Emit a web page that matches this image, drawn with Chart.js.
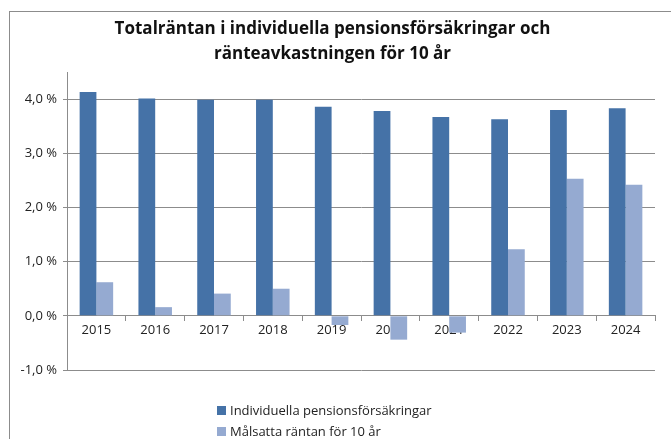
<!DOCTYPE html>
<html>
<head>
<meta charset="utf-8">
<script src="https://cdn.jsdelivr.net/npm/chart.js@4/dist/chart.umd.min.js"></script>
<style>
  body { margin: 0; background: #fff; }
  #wrap { position: relative; width: 671px; height: 439px; }
  #frame { position: absolute; left: 9px; top: 11px; right: 0; bottom: 0;
           border-left: 1px solid #8c8c8c; border-top: 1px solid #8c8c8c; }
  #legend { position: absolute; left: 217px; top: 400px; font-family: 'Open Sans', sans-serif;
            font-size: 13px; color: #222; line-height: 21px; }
  #legend span.box { display: inline-block; width: 9px; height: 9px; margin-right: 4px; }
</style>
</head>
<body>
<div id="wrap">
  <div id="frame"></div>
  <canvas id="rateChart" width="671" height="439"></canvas>
  <div id="legend"></div>
</div>
<script>
// data
const years = ['2015', '2016', '2017', '2018', '2019', '2020', '2021', '2022', '2023', '2024'];
const totalRate = [4.13, 4.01, 3.99, 3.99, 3.86, 3.78, 3.67, 3.63, 3.80, 3.83];
const targetRate = [0.62, 0.16, 0.41, 0.50, -0.17, -0.44, -0.31, 1.23, 2.53, 2.42];
const yTicks = [-1, 0, 1, 2, 3, 4];

const seriesNames = ['Individuella pensionsförsäkringar', 'Målsatta räntan för 10 år'];
const colors = ['#4572a7', '#95aad1'];

const ctx = document.getElementById('rateChart').getContext('2d');

const myChart = new Chart(ctx, {
  type: 'bar',
  data: {
    labels: years,
    datasets: [
      { label: seriesNames[0], data: totalRate, backgroundColor: colors[0] },
      { label: seriesNames[1], data: targetRate, backgroundColor: colors[1] }
    ]
  },
  options: {
    responsive: false,
    animation: false,
    layout: { padding: { left: 10, right: 16, top: 0, bottom: 69 } },
    datasets: { bar: { categoryPercentage: 0.57, barPercentage: 1 } },
    scales: {
      x: {
        position: { y: 0 },
        grid: { offset: true, drawOnChartArea: false, color: '#8c8c8c', tickLength: 5 },
        border: { color: '#8c8c8c' },
        ticks: { color: '#222', font: { family: 'Open Sans', size: 13 }, padding: 2 }
      },
      y: {
        min: -1,
        max: 4.5,
        afterBuildTicks: (axis) => { axis.ticks = yTicks.map(v => ({ value: v })); },
        afterFit: (axis) => { axis.width = 57; },
        grid: { color: '#8c8c8c', drawTicks: true, tickLength: 4 },
        border: { color: '#8c8c8c' },
        ticks: {
          color: '#222',
          font: { family: 'Open Sans', size: 13 },
          padding: 6,
          callback: (v) => v.toFixed(1).replace('.', ',') + ' %'
        }
      }
    },
    plugins: {
      legend: { display: false },
      tooltip: { enabled: false },
      title: {
        display: true,
        text: ['Totalräntan i individuella pensionsförsäkringar och', 'ränteavkastningen för 10 år'],
        color: '#111',
        font: { family: 'Open Sans', size: 17, weight: 'bold', lineHeight: 1.5 },
        padding: { top: 16, bottom: 5 }
      }
    }
  }
});

// legend stacked like the original
const legendEl = document.getElementById('legend');
legendEl.innerHTML = seriesNames.map((n, i) =>
  `<div><span class="box" style="background:${colors[i]}"></span>${n}</div>`).join('');
</script>
</body>
</html>
